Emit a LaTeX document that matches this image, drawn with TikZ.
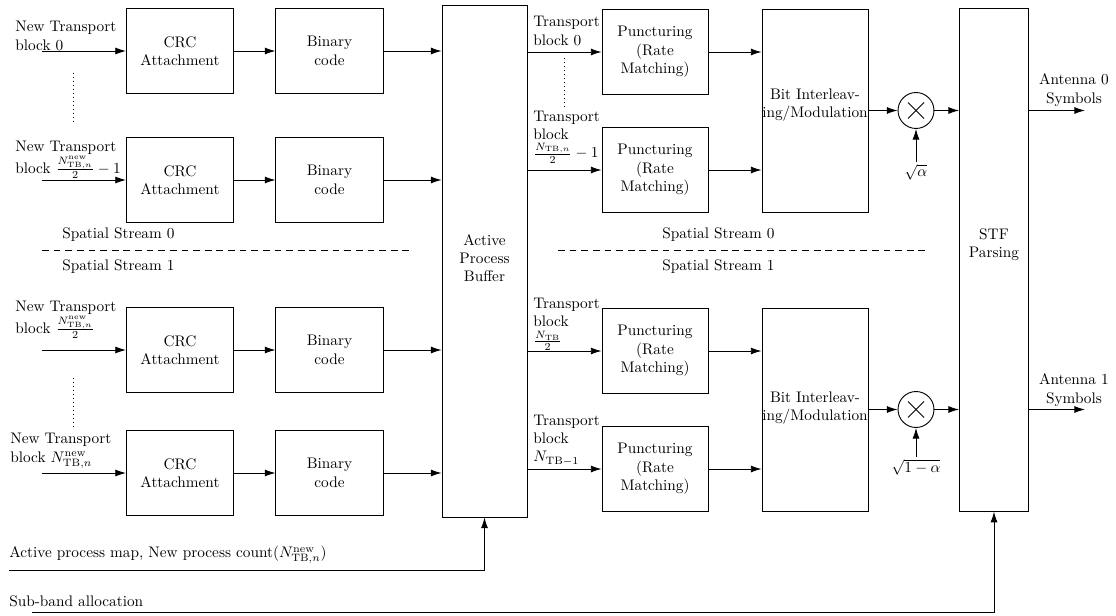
\documentclass[tikz,border=0pt]{standalone}
\usetikzlibrary{arrows.meta}
\begin{document}
\begin{tikzpicture}[x=0.6536pt,y=-0.6536pt,
  blk/.style={draw,line width=0.6pt,align=center,inner sep=0pt},
  arr/.style={line width=0.6pt,-{Latex[length=7pt,width=4.6pt]}},
  ln/.style={line width=0.6pt},
  lbl/.style={inner sep=0pt,align=left,anchor=west},
  sep/.style={line width=0.6pt,dash pattern=on 4.4pt off 3.2pt},
  dotl/.style={line width=0.6pt,dotted}]
\useasboundingbox (0,0) rectangle (1116,616);
% CRC and binary rows
\foreach \n/\yy in {1/51,2/180,3/350,4/473}{
  \node[blk,minimum width=70pt,minimum height=55.5pt] (crc\n) at (180,\yy) {CRC\\Attachment};
  \node[blk,minimum width=70pt,minimum height=55.5pt] (bin\n) at (329.5,\yy) {Binary\\code};
}
% buffer
\node[blk,minimum width=55.5pt,minimum height=334.6pt] (buf) at (484.5,261) {};
\node[inner sep=0pt,align=center] (buft) at (484.5,258) {Active\\Process\\Buffer};
% puncturing
\foreach \n/\yy in {1/52,2/170,3/351,4/469}{
  \node[blk,minimum width=69.3pt,minimum height=56pt] (p\n) at (655,\yy) {Puncturing\\(Rate\\Matching)};
}
% bit interleaving
\node[blk,minimum width=69.3pt,minimum height=132.7pt] (bit1) at (815,110.5) {};
\node[inner sep=0pt,align=center] (bit1t) at (815,105) {Bit Interleav-\\ing/Modulation};
\node[blk,minimum width=69.3pt,minimum height=132.7pt] (bit2) at (815,409.5) {};
\node[inner sep=0pt,align=center] (bit2t) at (815,408) {Bit Interleav-\\ing/Modulation};
% multipliers
\node[draw,circle,line width=0.6pt,minimum size=23.5pt,inner sep=0pt] (m1) at (916,110.5) {};
\node[draw,circle,line width=0.6pt,minimum size=23.5pt,inner sep=0pt] (m2) at (916,409.5) {};
\foreach \m in {m1,m2}{
  \draw[line width=0.6pt] ([shift={(-8,-8)}]\m.center) -- ([shift={(8,8)}]\m.center);
  \draw[line width=0.6pt] ([shift={(-8,8)}]\m.center) -- ([shift={(8,-8)}]\m.center);
}
\node[inner sep=1pt] (sa) at (916,172) {$\sqrt{\alpha}$};
\node[inner sep=1pt] (sb) at (916,467) {$\sqrt{1-\alpha}$};
% STF
\node[blk,minimum width=45.1pt,minimum height=328.3pt] (stf) at (994,260) {};
\node[inner sep=0pt,align=center] (stft) at (994,245) {STF\\Parsing};
% input labels
\node[lbl] (l1) at (15,36) {New Transport\\block 0};
\node[lbl] (l2) at (15,160) {New Transport\\block $\frac{N^{\mathrm{new}}_{\mathrm{TB},n}}{2}-1$};
\node[lbl] (l3) at (15,320) {New Transport\\block $\frac{N^{\mathrm{new}}_{\mathrm{TB},n}}{2}$};
\node[lbl] (l4) at (10,451) {New Transport\\block $N^{\mathrm{new}}_{\mathrm{TB},n}$};
\foreach \n/\yy in {1/51,2/180,3/350,4/473}{
  \coordinate (in\n) at (42,\yy);
  \draw[arr] (in\n) -- (crc\n.west);
  \draw[arr] (crc\n.east) -- (bin\n.west);
  \draw[arr] (bin\n.east) -- (bin\n.east -| buf.west);
}
\coordinate (d1a) at (73,73); \coordinate (d1b) at (73,123);
\draw[dotl] (d1a) -- (d1b);
\coordinate (d2a) at (73,378); \coordinate (d2b) at (73,427);
\draw[dotl] (d2a) -- (d2b);
% right labels
\node[lbl] (t1) at (533,31) {Transport\\block 0};
\node[lbl] (t2) at (533,137) {Transport\\block\\$\frac{N_{\mathrm{TB},n}}{2}-1$};
\node[lbl] (t3) at (533,324) {Transport\\block\\$\frac{N_{\mathrm{TB}}}{2}$};
\node[lbl] (t4) at (533,440) {Transport\\block\\$N_{\mathrm{TB}-1}$};
\foreach \n in {1,2,3,4}{
  \draw[arr] (buf.east |- p\n.west) -- (p\n.west);
}
\coordinate (d3a) at (564,58); \coordinate (d3b) at (564,107);
\draw[dotl] (d3a) -- (d3b);
\draw[arr] (p1.east) -- (p1.east -| bit1.west);
\draw[arr] (p2.east) -- (p2.east -| bit1.west);
\draw[arr] (p3.east) -- (p3.east -| bit2.west);
\draw[arr] (p4.east) -- (p4.east -| bit2.west);
\draw[arr] (bit1.east |- m1) -- (m1.west);
\draw[arr] (bit2.east |- m2) -- (m2.west);
\draw[arr] (m1.east) -- (m1.east -| stf.west);
\draw[arr] (m2.east) -- (m2.east -| stf.west);
\draw[arr] (sa.north) -- (m1.south);
\draw[arr] (sb.north) -- (m2.south);
\coordinate (a0) at (1085,110.5);
\coordinate (a1) at (1085,409.5);
\draw[arr] (stf.east |- a0) -- (a0);
\draw[arr] (stf.east |- a1) -- (a1);
\node[inner sep=0pt,align=center] (a0t) at (1074,90) {Antenna 0\\Symbols};
\node[inner sep=0pt,align=center] (a1t) at (1074,390) {Antenna 1\\Symbols};
% spatial streams
\coordinate (s1a) at (42,250); \coordinate (s1b) at (410,250);
\draw[sep] (s1a) -- (s1b);
\coordinate (s2a) at (558,250); \coordinate (s2b) at (927,250);
\draw[sep] (s2a) -- (s2b);
\node[lbl] (ss0l) at (62,235) {Spatial Stream 0};
\node[lbl] (ss1l) at (62,267) {Spatial Stream 1};
\node[lbl] (ss0r) at (662,235) {Spatial Stream 0};
\node[lbl] (ss1r) at (662,267) {Spatial Stream 1};
% bottom controls
\node[lbl] (apmt) at (9,555) {Active process map, New process count$(N^{\mathrm{new}}_{\mathrm{TB},n})$};
\coordinate (apm) at (9,570);
\draw[arr] (apm) -| (buf.south);
\node[lbl] (sbt) at (9,601) {Sub-band allocation};
\coordinate (sba) at (32,612);
\draw[arr] (sba) -| (stf.south);
\end{tikzpicture}
\end{document}
